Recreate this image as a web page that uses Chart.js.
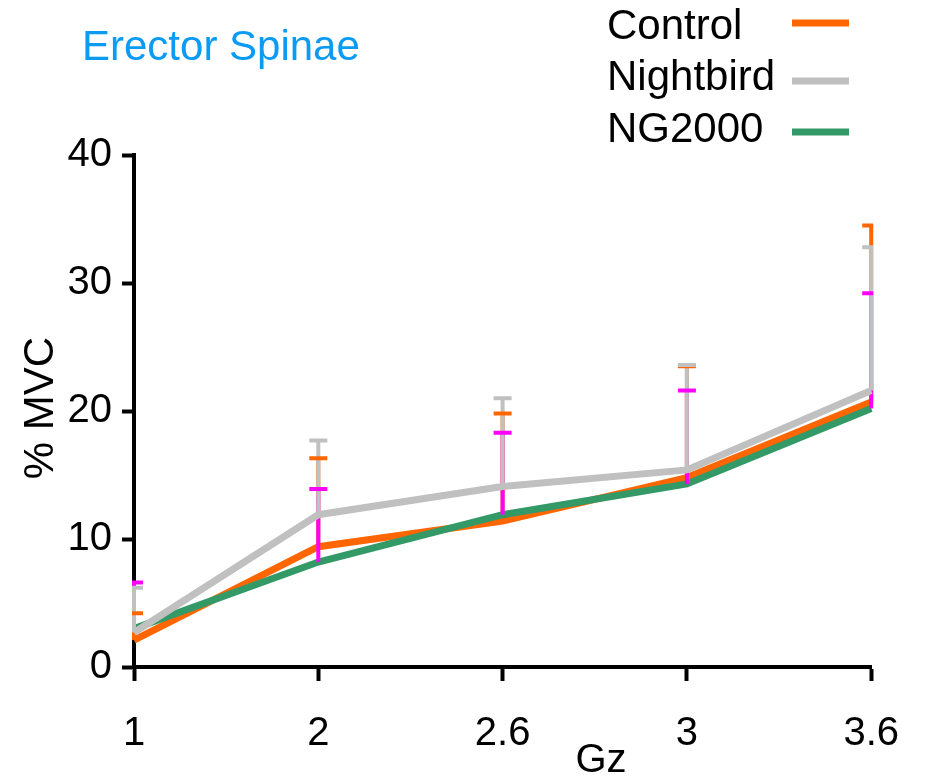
<!DOCTYPE html>
<html>
<head>
<meta charset="utf-8">
<script src="https://cdn.jsdelivr.net/npm/chart.js@4.4.0/dist/chart.umd.min.js"></script>
<style>
  body { margin: 0; background: #fff; }
  #wrap { width: 928px; height: 778px; position: relative; }
</style>
</head>
<body>
<div id="wrap"><canvas id="emg-chart"></canvas></div>
<script>
const gzLevels = ['1', '2', '2.6', '3', '3.6'];

// mean % MVC per Gz level
const controlMean   = [2.1, 9.4, 11.4, 14.8, 20.7];
const nightbirdMean = [2.7, 11.9, 14.1, 15.4, 21.6];
const ng2000Mean    = [3.0, 8.2, 11.9, 14.3, 20.2];

// upper error bar (SD) per Gz level
const controlSD   = [2.1, 6.9, 8.4, 8.7, 13.8];
const nightbirdSD = [3.5, 5.8, 6.9, 8.2, 11.2];
const ng2000SD    = [3.6, 5.7, 6.4, 7.3, 9.0];

const yTicks = [0, 10, 20, 30, 40];

const FONT = '"Liberation Sans", Arial, sans-serif';

// error bar stems go right after their own line, caps on top of everything
const errorBars = {
  id: 'errorBars',
  afterDatasetDraw(chart, args) {
    const ds = chart.data.datasets[args.index];
    const y = chart.scales.y;
    const ctx = chart.ctx;
    ctx.save();
    ctx.strokeStyle = ds.errColor;
    ctx.lineWidth = 4;
    args.meta.data.forEach((pt, i) => {
      ctx.beginPath();
      ctx.moveTo(pt.x, pt.y);
      ctx.lineTo(pt.x, y.getPixelForValue(ds.data[i] + ds.sd[i]));
      ctx.stroke();
    });
    ctx.restore();
  },
  afterDatasetsDraw(chart) {
    const ctx = chart.ctx;
    const area = chart.chartArea;
    const y = chart.scales.y;
    ctx.save();
    ctx.beginPath();
    ctx.rect(area.left - 2, 0, area.right - area.left + 4, chart.height);
    ctx.clip();
    [0, 2, 1].forEach((idx) => {
      const ds = chart.data.datasets[idx];
      const meta = chart.getDatasetMeta(idx);
      ctx.strokeStyle = ds.errColor;
      ctx.lineWidth = 4;
      meta.data.forEach((pt, i) => {
        const top = y.getPixelForValue(ds.data[i] + ds.sd[i]);
        ctx.beginPath();
        ctx.moveTo(pt.x - 9, top);
        ctx.lineTo(pt.x + 9, top);
        ctx.stroke();
      });
    });
    ctx.restore();
  }
};

const labels = {
  id: 'labels',
  afterDraw(chart) {
    const ctx = chart.ctx;
    ctx.save();
    ctx.textBaseline = 'alphabetic';

    ctx.font = `42px ${FONT}`;
    ctx.fillStyle = '#0b9bf3';
    ctx.textAlign = 'left';
    ctx.fillText('Erector Spinae', 82, 60);

    const textY = [39, 90, 142];
    const lineY = [23, 81, 132];
    chart.data.datasets.forEach((ds, i) => {
      ctx.fillStyle = '#000';
      ctx.fillText(ds.label, 607, textY[i]);
      ctx.strokeStyle = ds.borderColor;
      ctx.lineWidth = 7;
      ctx.beginPath();
      ctx.moveTo(792, lineY[i]);
      ctx.lineTo(849, lineY[i]);
      ctx.stroke();
    });

    ctx.fillStyle = '#000';
    ctx.font = `40px ${FONT}`;
    ctx.textAlign = 'center';
    ctx.fillText('Gz', 601, 772);

    ctx.font = `42px ${FONT}`;
    ctx.translate(53, 408);
    ctx.rotate(-Math.PI / 2);
    ctx.fillText('% MVC', 0, 0);
    ctx.restore();
  }
};

const ctx = document.getElementById('emg-chart').getContext('2d');
const chart = new Chart(ctx, {
  type: 'line',
  data: {
    labels: gzLevels,
    datasets: [
      { label: 'Control', data: controlMean, sd: controlSD,
        borderColor: '#ff6600', errColor: '#ff6600', order: 2 },
      { label: 'Nightbird', data: nightbirdMean, sd: nightbirdSD,
        borderColor: '#c0c0c0', errColor: '#c0c0c0', order: 0 },
      { label: 'NG2000', data: ng2000Mean, sd: ng2000SD,
        borderColor: '#339966', errColor: '#ff00ff', order: 1 }
    ]
  },
  options: {
    responsive: true,
    maintainAspectRatio: false,
    animation: false,
    elements: {
      line: { borderWidth: 7, tension: 0, fill: false },
      point: { radius: 0, hoverRadius: 0 }
    },
    layout: { padding: { top: 155, right: 56, left: 0, bottom: 0 } },
    plugins: {
      legend: { display: false },
      tooltip: { enabled: false }
    },
    scales: {
      x: {
        type: 'category',
        offset: false,
        border: { color: '#000', width: 4 },
        grid: { drawOnChartArea: false, drawTicks: true, tickLength: 14, tickWidth: 4, tickColor: '#000' },
        ticks: { color: '#000', font: { size: 40, family: FONT }, padding: 29, maxRotation: 0, autoSkip: false },
        afterFit: (s) => { s.height = 111; }
      },
      y: {
        min: yTicks[0],
        max: yTicks[yTicks.length - 1],
        border: { color: '#000', width: 4 },
        grid: { drawOnChartArea: false, drawTicks: true, tickLength: 12, tickWidth: 4, tickColor: '#000' },
        ticks: { stepSize: 10, color: '#000', font: { size: 40, family: FONT }, padding: 10 },
        afterBuildTicks: (s) => { s.ticks = yTicks.map((v) => ({ value: v })); },
        afterFit: (s) => { s.width = 134; }
      }
    }
  },
  plugins: [errorBars, labels]
});
</script>
</body>
</html>
